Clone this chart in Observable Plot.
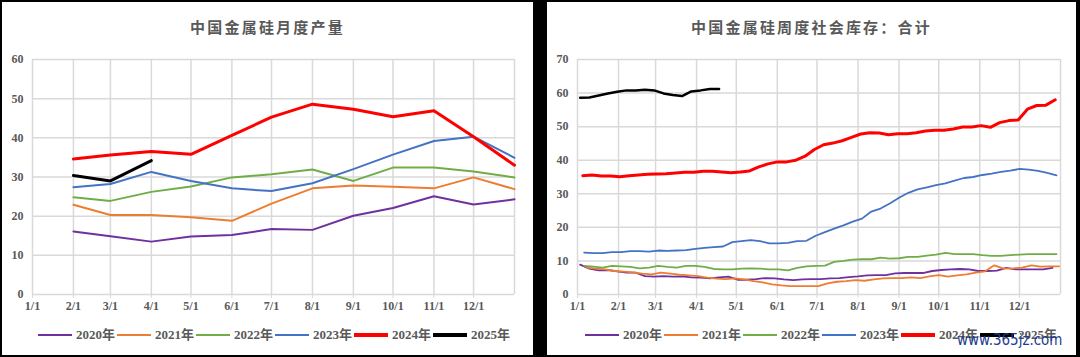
<!DOCTYPE html>
<html><head><meta charset="utf-8">
<script src="https://cdn.jsdelivr.net/npm/d3@7"></script>
<script src="https://cdn.jsdelivr.net/npm/@observablehq/plot@0.6"></script>
<style>
html,body{margin:0;padding:0;background:#000;width:1080px;height:357px;overflow:hidden;position:relative;}
.panel{position:absolute;top:2px;height:353px;background:#fff;overflow:hidden;}
.title{position:absolute;top:15px;left:0;width:100%;text-align:center;font-family:"Noto Sans CJK SC";font-weight:bold;font-size:15px;letter-spacing:2.2px;color:#595959;line-height:20px;}
.chart{position:absolute;top:38px;left:0;}
.legend{position:absolute;top:325px;display:flex;font-family:"Liberation Serif","Noto Sans CJK SC";font-weight:bold;font-size:13px;color:#595959;line-height:16px;}
.item{width:79px;display:flex;align-items:center;}
.sw{width:34px;margin-right:4px;}
.wm{position:absolute;left:410px;top:328px;font-family:"DejaVu Sans";font-size:16px;color:#1d3d8f;transform:scaleX(0.84);transform-origin:left center;white-space:nowrap;}
</style></head>
<body>
<div class="panel" id="p1" style="left:2px;width:531px;"><div class="title">中国金属硅月度产量</div><div class="chart" id="c1"></div><div class="legend" id="l1" style="left:36px;"></div></div>
<div class="panel" id="p2" style="left:547px;width:529px;"><div class="title">中国金属硅周度社会库存：合计</div><div class="chart" id="c2"></div><div class="legend" id="l2" style="left:38px;"></div><div class="wm">www.365jz.com</div></div>
<script>
// ---- shared ----
const monthLabels = ["1/1","2/1","3/1","4/1","5/1","6/1","7/1","8/1","9/1","10/1","11/1","12/1"];
const years = ["2020年","2021年","2022年","2023年","2024年","2025年"];
const colors = ["#7030a0","#ed7d31","#70ad47","#4472c4","#ff0000","#000000"];

// ---- left: monthly production (万吨) ----
const prodDates = ["2021-02-01","2021-03-01","2021-04-01","2021-05-01","2021-06-01","2021-07-01","2021-08-01","2021-09-01","2021-10-01","2021-11-01","2021-12-01","2022-01-01"];
const prod2020 = [16.1,14.9,13.5,14.8,15.2,16.7,16.5,20.1,22.1,25.1,23.0,24.3];
const prod2021 = [22.9,20.3,20.3,19.7,18.8,23.2,27.1,27.8,27.5,27.1,29.9,26.9];
const prod2022 = [24.8,23.9,26.2,27.6,29.9,30.7,31.9,29.0,32.4,32.4,31.4,29.9];
const prod2023 = [27.4,28.2,31.3,29.0,27.1,26.4,28.4,32.0,35.7,39.2,40.3,34.9];
const prod2024 = [34.6,35.6,36.5,35.8,40.6,45.3,48.6,47.3,45.4,46.9,40.3,33.0];
const prod2025 = [30.4,29.0,34.2];
const prodTicks = [0,10,20,30,40,50,60];

// ---- right: weekly social inventory (万吨) ----
const invStart = ["2021-01-03","2021-01-08","2021-01-06","2021-01-06","2021-01-05","2021-01-03"];
const inv2020 = [8.9,7.7,7.2,7.3,6.9,6.5,6.5,5.5,5.3,5.5,5.3,5.4,5.1,5.0,4.8,5.1,5.3,4.4,4.4,4.6,4.9,4.8,4.5,4.3,4.5,4.6,4.6,4.8,4.9,5.2,5.4,5.7,5.8,5.8,6.3,6.4,6.4,6.4,7.0,7.3,7.5,7.6,7.5,7.0,7.0,7.1,7.9,7.5,7.5,7.5,7.5,7.9];
const inv2021 = [8.0,7.7,7.5,7.0,6.8,6.6,6.2,6.0,6.5,6.2,5.9,5.7,5.5,5.0,4.7,4.6,4.8,4.5,4.0,3.6,3.0,2.7,2.5,2.5,2.5,2.5,3.3,3.8,4.0,4.3,4.1,4.5,4.8,4.9,4.9,5.1,4.9,5.4,5.8,5.3,5.7,6.0,6.5,6.9,8.7,7.7,7.8,8.0,8.7,8.3,8.4,8.4];
const inv2022 = [8.5,8.3,8.0,8.5,8.4,8.2,7.8,8.0,8.5,8.2,8.0,8.5,8.5,8.2,7.6,7.5,7.5,7.7,7.8,7.7,7.5,7.5,7.2,7.9,8.4,8.5,8.6,9.7,10.0,10.4,10.5,10.5,11.0,10.7,10.8,11.2,11.2,11.6,11.9,12.4,12.0,12.0,12.0,11.7,11.5,11.5,11.7,11.9,12.0,12.0,12.0,12.0];
const inv2023 = [12.5,12.3,12.3,12.6,12.6,12.9,12.9,12.8,13.1,13.0,13.1,13.2,13.6,13.9,14.1,14.3,15.6,15.9,16.2,15.9,15.2,15.2,15.4,15.9,16.0,17.5,18.6,19.6,20.6,21.7,22.6,24.7,25.6,27.1,28.8,30.3,31.3,31.9,32.6,33.1,33.9,34.7,35.0,35.6,36.0,36.5,36.9,37.4,37.2,36.8,36.2,35.5];
const inv2024 = [35.4,35.6,35.3,35.3,35.1,35.4,35.6,35.8,35.9,36.0,36.2,36.4,36.4,36.7,36.7,36.5,36.3,36.5,36.8,38.0,38.9,39.5,39.5,40.0,41.2,43.2,44.6,45.1,45.8,46.8,47.8,48.2,48.1,47.6,47.9,47.9,48.2,48.7,48.9,48.9,49.3,49.9,49.9,50.3,49.8,51.2,51.8,52.0,55.2,56.3,56.4,58.0];
const inv2025 = [58.6,58.7,59.3,59.9,60.4,60.8,60.8,61.0,60.8,59.9,59.4,59.1,60.5,60.8,61.2,61.2];
const invTicks = [0,10,20,30,40,50,60,70];

// ---- helpers ----
const refYear = 2021;
const tickDates = monthLabels.map(s => { const [m,d] = s.split("/").map(Number); return new Date(Date.UTC(refYear, m-1, d)); });
const xEnd = new Date(Date.UTC(refYear+1, 0, 1));
const gridDates = tickDates.concat([xEnd]);
const labelOf = new Map(tickDates.map((d,i) => [+d, monthLabels[i]]));
const parse = d3.utcParse("%Y-%m-%d");

const prodSeries = [prod2020,prod2021,prod2022,prod2023,prod2024,prod2025];
const prodRows = prodSeries.flatMap((vals,k) => vals.map((v,i) => ({year: years[k], date: parse(prodDates[i]), value: v})));
const invSeries = [inv2020,inv2021,inv2022,inv2023,inv2024,inv2025];
const invRows = invSeries.flatMap((vals,k) => vals.map((v,i) => ({year: years[k], date: d3.utcDay.offset(parse(invStart[k]), 7*i), value: v})));

function chart(rows, ticks, width, mr, widths) {
  return Plot.plot({
    width, height: 280,
    marginLeft: 30, marginRight: mr, marginTop: 19, marginBottom: 26,
    style: {fontFamily: "Liberation Serif", fontSize: "12px", fontWeight: "bold", color: "#595959", background: "white", overflow: "visible"},
    x: {type: "utc", domain: [tickDates[0], xEnd], label: null},
    y: {domain: [ticks[0], ticks[ticks.length-1]], label: null},
    color: {domain: years, range: colors},
    marks: [
      Plot.ruleY(ticks, {stroke: "#d9d9d9", strokeWidth: 1.5}),
      Plot.ruleX(gridDates, {stroke: "#d9d9d9", strokeWidth: 1.5}),
      Plot.axisX(tickDates, {tickFormat: d => labelOf.get(+d), tickSize: 4, tickPadding: 3, stroke: "#d9d9d9", fill: "#595959", label: null}),
      Plot.axisY(ticks, {tickSize: 0, tickPadding: 9, fill: "#595959", label: null}),
      ...years.map((y,k) => Plot.line(rows.filter(r => r.year === y), {x: "date", y: "value", stroke: colors[k], strokeWidth: widths[k], strokeLinejoin: "round", strokeLinecap: "round"}))
    ]
  });
}

document.getElementById("c1").append(chart(prodRows, prodTicks, 531, 19, [2,2,2,2,3,3]));
document.getElementById("c2").append(chart(invRows, invTicks, 529, 16, [1.8,1.8,1.8,1.8,3,2.5]));

function legend(el, widths) {
  years.forEach((y,k) => {
    const it = document.createElement("div"); it.className = "item";
    it.innerHTML = `<svg class="sw" width="34" height="8"><line x1="0" x2="34" y1="4" y2="4" stroke="${colors[k]}" stroke-width="${widths[k]}"/></svg><span>${y}</span>`;
    el.append(it);
  });
}
legend(document.getElementById("l1"), [2,2,2,2,4,4]);
legend(document.getElementById("l2"), [2,2,2,2,4,4]);
</script>
</body></html>
